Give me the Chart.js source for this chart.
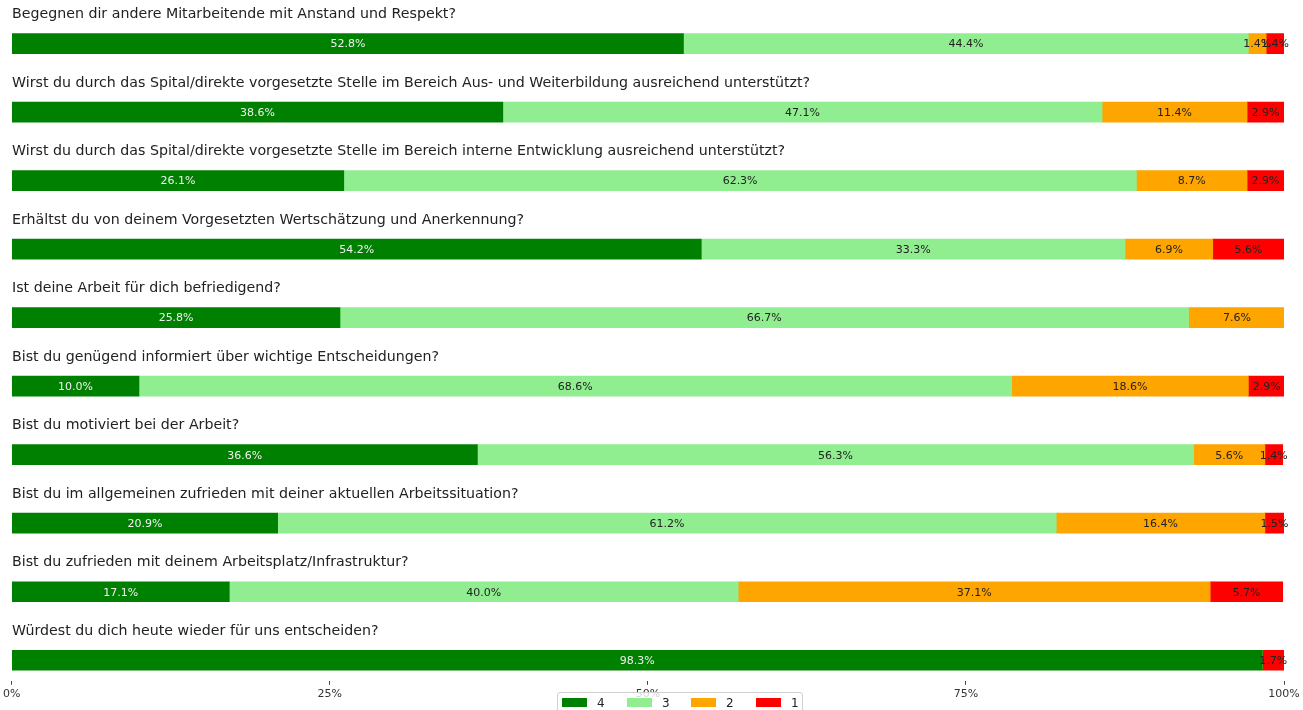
<!DOCTYPE html>
<html>
<head>
<meta charset="utf-8">
<script src="https://cdn.jsdelivr.net/npm/chart.js@4/dist/chart.umd.min.js"></script>
<style>
html,body{margin:0;padding:0;background:#fff;overflow:hidden;}
#wrap{position:relative;width:1303px;height:710px;}
#legend{position:absolute;left:557px;top:692px;width:244px;height:24px;border:1px solid #d0d0d0;border-radius:3px;background:rgba(255,255,255,0.8);font-family:"DejaVu Sans",sans-serif;font-size:12px;color:#222;}
.item{position:absolute;top:4px;height:12px;line-height:12px;}
.sw{position:absolute;top:1px;width:25px;height:9px;}
.lb{position:absolute;left:35px;top:0;}
</style>
</head>
<body>
<div id="wrap">
<canvas id="c" width="1303" height="710"></canvas>
<div id="legend"></div>
</div>
<script>
const categories = [
  "Begegnen dir andere Mitarbeitende mit Anstand und Respekt?",
  "Wirst du durch das Spital/direkte vorgesetzte Stelle im Bereich Aus- und Weiterbildung ausreichend unterstützt?",
  "Wirst du durch das Spital/direkte vorgesetzte Stelle im Bereich interne Entwicklung ausreichend unterstützt?",
  "Erhältst du von deinem Vorgesetzten Wertschätzung und Anerkennung?",
  "Ist deine Arbeit für dich befriedigend?",
  "Bist du genügend informiert über wichtige Entscheidungen?",
  "Bist du motiviert bei der Arbeit?",
  "Bist du im allgemeinen zufrieden mit deiner aktuellen Arbeitssituation?",
  "Bist du zufrieden mit deinem Arbeitsplatz/Infrastruktur?",
  "Würdest du dich heute wieder für uns entscheiden?"
];
const seriesNames = ["4", "3", "2", "1"];
const s4 = [52.8, 38.6, 26.1, 54.2, 25.8, 10.0, 36.6, 20.9, 17.1, 98.3];
const s3 = [44.4, 47.1, 62.3, 33.3, 66.7, 68.6, 56.3, 61.2, 40.0, 0];
const s2 = [1.4, 11.4, 8.7, 6.9, 7.6, 18.6, 5.6, 16.4, 37.1, 0];
const s1 = [1.4, 2.9, 2.9, 5.6, 0, 2.9, 1.4, 1.5, 5.7, 1.7];
const xTicks = [0, 25, 50, 75, 100];

const seriesColors = ["#008000", "#90EE90", "#FFA500", "#FF0000"];
const labelColors = ["#f0f0f0", "#222222", "#222222", "#222222"];
const seriesValues = [s4, s3, s2, s1];

const datasets = seriesValues.map((vals, k) => ({
  label: seriesNames[k],
  data: vals.map((v, i) => ({x: v, y: i})),
  backgroundColor: seriesColors[k],
  borderWidth: 0,
  barThickness: 20
}));

const labelPlugin = {
  id: 'rowLabels',
  afterDatasetsDraw(chart) {
    const ctx = chart.ctx, ys = chart.scales.y;
    ctx.save();
    ctx.font = '14.2px "DejaVu Sans"';
    ctx.fillStyle = '#222';
    ctx.textBaseline = 'middle';
    ctx.textAlign = 'left';
    categories.forEach((q, i) => ctx.fillText(q, 12, ys.getPixelForValue(i) - 29));
    ctx.font = '11px "DejaVu Sans"';
    ctx.textAlign = 'center';
    chart.data.datasets.forEach((ds, di) => {
      const meta = chart.getDatasetMeta(di);
      meta.data.forEach((bar, i) => {
        const v = ds.data[i].x;
        if (!v) return;
        ctx.fillStyle = labelColors[di];
        ctx.fillText(v.toFixed(1) + '%', (bar.x + bar.base) / 2, bar.y + 1);
      });
    });
    ctx.restore();
  }
};

new Chart(document.getElementById('c'), {
  type: 'bar',
  data: {datasets},
  options: {
    indexAxis: 'y',
    responsive: false,
    animation: false,
    devicePixelRatio: 1,
    layout: {padding: {left: 11, right: 19, top: 0, bottom: 6}},
    plugins: {legend: {display: false}, tooltip: {enabled: false}},
    scales: {
      x: {
        type: 'linear', stacked: true, min: 0, max: 100,
        afterBuildTicks: (s) => { s.ticks = xTicks.map(v => ({value: v})); },
        ticks: {callback: v => v + '%', color: '#333', font: {family: 'DejaVu Sans', size: 11}, padding: 3, maxRotation: 0},
        grid: {display: true, drawOnChartArea: false, drawTicks: true, tickLength: 4, color: '#444'},
        border: {display: false}
      },
      y: {
        type: 'linear', stacked: true, reverse: true, offset: false, min: -0.6356, max: 9.30, display: false
      }
    }
  },
  plugins: [labelPlugin]
});

const leg = document.getElementById('legend');
const xs = [4, 69, 133, 198];
seriesNames.forEach((n, k) => {
  const d = document.createElement('div');
  d.className = 'item';
  d.style.left = xs[k] + 'px';
  d.innerHTML = '<span class="sw" style="background:' + seriesColors[k] + '"></span><span class="lb">' + n + '</span>';
  leg.appendChild(d);
});
</script>
</body>
</html>
